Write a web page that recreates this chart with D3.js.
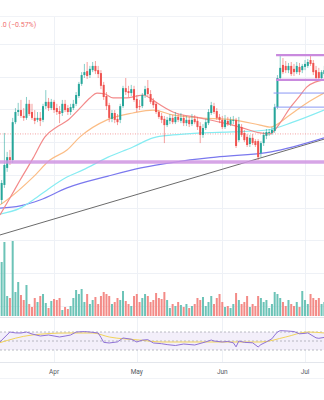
<!DOCTYPE html>
<html><head><meta charset="utf-8">
<script src="https://cdn.jsdelivr.net/npm/d3@7"></script>
<style>html,body{margin:0;padding:0;background:#fff;overflow:hidden}</style>
</head><body><svg id="c" width="324" height="400"></svg>
<script>
// ---- DATA ----
const startDay = Date.UTC(2023, 2, 12); // first candle: 12 Mar
const opens = [47.7,52.3,56.9,62.1,65.4,64.5,76.1,79.2,79.8,78.0,
77.4,81.7,79.2,77.4,76.8,77.4,76.8,81.0,82.3,80.4,
82.3,80.4,79.5,78.9,81.7,80.4,79.2,80.4,81.7,84.1,
87.8,90.5,91.7,90.5,92.0,93.3,92.0,91.1,87.5,84.1,
81.3,77.1,78.9,77.1,76.8,81.0,86.5,85.6,85.0,86.2,
83.2,81.0,81.0,84.4,86.5,84.7,82.6,81.7,79.2,78.0,
77.1,75.2,76.5,77.4,76.1,77.7,76.5,77.4,75.8,76.8,
75.5,77.1,76.5,74.9,72.2,74.3,75.8,78.9,81.0,79.5,
77.7,76.8,74.6,76.5,75.5,76.5,76.8,70.6,74.6,72.8,
71.6,69.4,71.3,70.3,70.3,66.7,69.7,71.9,72.8,72.8,
73.4,80.7,89.6,93.6,93.3,92.0,93.3,92.4,91.4,93.0,
92.0,93.0,93.3,95.1,94.2,92.0,91.4,89.6,90.8];
const highs = [53.8,58.4,72.8,67.0,67.6,77.4,80.4,82.0,82.9,80.4,
83.8,82.9,81.7,79.8,79.2,79.2,81.7,85.9,83.5,83.2,
82.9,81.7,81.0,82.9,82.9,81.3,81.7,82.9,85.3,88.4,
91.4,93.9,94.5,93.3,94.5,94.8,93.3,92.0,88.4,85.3,
82.0,79.8,79.8,78.6,81.7,87.2,89.6,87.2,87.5,87.2,
84.4,82.9,85.0,87.2,89.0,85.9,83.5,82.3,79.8,78.9,
78.0,77.7,78.6,78.3,79.2,78.6,78.9,78.3,78.0,77.7,
78.6,78.3,77.7,76.1,75.5,77.1,80.1,82.3,82.0,80.4,
78.6,78.0,78.3,77.7,77.7,78.0,77.4,77.7,75.5,73.7,
72.5,72.2,72.5,70.9,70.9,70.3,73.1,74.0,74.0,74.6,
81.7,90.5,96.6,95.7,94.8,94.2,94.5,93.9,94.5,94.2,
93.9,95.1,95.4,96.6,95.1,93.3,92.7,92.0,93.3];
const lows = [45.6,51.1,56.0,60.9,63.0,63.6,75.5,78.0,77.4,76.5,
76.8,78.0,76.8,75.5,76.1,74.9,76.1,80.1,79.5,79.8,
78.9,78.3,75.8,78.0,79.2,78.3,78.3,79.8,81.0,83.5,
87.2,89.6,89.3,89.6,91.4,90.8,89.6,86.2,82.9,79.8,
76.1,76.1,75.8,75.2,75.8,80.4,84.4,83.8,84.1,82.3,
79.2,79.8,80.4,83.5,84.1,81.7,80.4,78.6,77.1,75.8,
69.7,74.6,75.5,75.5,75.5,76.1,75.8,74.9,74.9,74.6,
74.9,75.5,73.7,69.7,71.3,73.7,75.2,78.3,78.6,76.8,
75.8,74.0,74.0,74.9,74.9,75.5,68.2,70.0,71.6,70.0,
68.5,68.5,69.1,68.5,64.5,65.4,68.8,70.9,71.9,72.2,
72.8,80.1,89.0,90.8,91.1,91.1,90.2,90.2,90.8,90.5,
91.1,92.0,92.7,93.3,90.5,89.0,89.0,89.0,90.2];
const closes = [52.3,57.5,63.0,65.4,64.5,76.1,79.2,79.8,78.0,77.4,
81.7,78.6,77.4,76.5,77.4,76.5,81.0,82.3,80.4,82.3,
79.8,79.2,78.6,81.7,79.8,79.2,80.7,81.7,84.4,87.8,
90.5,91.4,90.2,92.4,93.3,91.7,90.8,87.2,83.8,81.0,
77.4,78.9,76.8,76.1,81.0,86.5,85.3,85.0,86.2,82.9,
80.4,80.7,84.4,86.2,84.7,82.3,81.3,79.2,77.7,76.8,
75.2,76.8,77.4,76.1,77.7,76.8,77.4,75.8,76.8,75.5,
76.8,76.1,74.6,72.2,74.3,76.1,79.2,81.3,79.2,77.4,
76.8,74.6,76.8,75.5,76.8,76.8,68.8,75.5,72.2,70.6,
69.1,71.3,69.7,69.1,65.4,69.7,72.2,73.1,73.1,73.7,
80.7,89.6,92.7,91.4,92.0,93.3,90.8,91.4,93.3,91.4,
93.3,93.9,94.5,93.9,91.4,89.6,89.6,91.4,92.0];
const volumes = [54,54,74,20,18,75,24,34,21,16,
31,12,9,18,14,20,22,13,8,15,
17,16,18,6,9,7,10,18,26,22,
27,14,22,12,16,19,12,20,24,22,
20,12,14,18,16,25,15,12,10,20,
22,14,18,22,20,14,16,23,18,17,
24,16,8,12,10,14,11,9,12,8,
10,12,18,16,19,10,14,20,12,18,
22,14,9,10,8,12,23,16,12,14,
20,9,12,10,20,18,14,16,8,12,
24,22,18,14,10,16,12,10,14,9,
25,16,12,22,18,16,18,12,14];
// moving averages: [day offset, value]
const maRed = [[0.4,47.7],[4,52.9],[7.7,58.4],[12.4,65.1],[16.7,71.6],[21,74.6],[24.7,76.5],[29.4,80.4],[33,83.5],[35.6,85.0],[38.5,84.7],[41.4,83.5],[46.4,83.5],[50,84.1],[52.2,84.4],[54.8,83.5],[57.3,82.0],[63.1,79.2],[72.9,77.4],[80.2,76.1],[87.4,74.6],[94.7,72.8],[98.3,72.5],[101.9,75.8],[105.5,80.4],[108.8,83.8],[111.7,86.9],[114.9,88.4],[117.9,89.0]];
const maOrange = [[0.4,50.8],[2.9,52.3],[12.4,59.3],[18.5,64.5],[24.7,67.6],[29.4,71.6],[39.2,76.8],[48.6,78.9],[55.9,79.8],[63.1,78.3],[72.9,77.4],[84.9,76.8],[94.7,75.2],[98.3,74.6],[105.5,78.3],[111,81.6],[117.9,85.0]];
const maCyan = [[0.4,48.0],[7.7,49.8],[12.4,52.3],[18.5,56.0],[24.7,59.3],[30.5,61.5],[39.6,65.4],[48.6,68.5],[55.9,71.3],[63.1,72.2],[72.9,72.8],[84.9,73.1],[97.2,73.7],[106.6,76.1],[117.9,79.8]];
const maBlue = [[0.4,49.8],[7.7,50.5],[14.9,52.3],[24.7,56.0],[39.6,59.6],[51.5,62.1],[63.9,63.9],[78.7,65.4],[98.7,67.0],[117.9,71.3]];
const trendLine = [[0.4,41.6],[117.9,70.9]];
const supportLevel = 63.9;
const priceLine = 72.5;
const rangeBox = {fromDay:100.5, top:96.6, bottom:89.0};
const blueLevels = [{fromDay:99.6, v:85.0},{fromDay:100, v:80.7}];
const rsi = [[0,45.6],[4,70],[6,68],[8,67.8],[10,70],[12,65.6],[15,61.1],[18,63.3],[22,58.9],[24,61],[26,63.3],[28,70],[31,71],[33,70],[36,67.8],[37,58],[38,47],[40,45.6],[43,48],[45,56.7],[48,54],[50,47.8],[52,52],[54,53],[56,45.6],[59,44],[61,42],[64,40],[67,43.3],[71,41.1],[75,48],[77,52.2],[78,50],[81,47.8],[83,49],[85,46],[86,37],[87,50],[89,47],[92,46],[94,36.7],[95,42],[97,48],[99,55],[100,63],[101,70],[102,73],[105,72],[107,71],[109,66],[111,67],[112,68],[115,57],[116,56],[118,58]];
const rsiMA = [[0,45.6],[12,63.3],[25,67.8],[34,67.8],[40,58.9],[51,52.2],[59,47.8],[73,47.8],[95,47.8],[104,58.9],[112,70],[118,67.8]];
const rsiLevels = [70, 50, 30];
const monthTicks = ["2023-04-01","2023-05-01","2023-06-01","2023-07-01"];
const headerText = ".0 (\u22120.57%)";

// ---- CHART ----
const W = 324;
const svg = d3.select("#c");
const day = d => new Date(startDay + d * 864e5);
const x = d3.scaleUtc().domain([new Date(Date.UTC(2023,2,12,9,36)), new Date(Date.UTC(2023,6,7,21,7))]).range([0, W]);
const y = d3.scaleLinear().domain([20, 100]).range([305.6, 44]);
const yv = d3.scaleLinear().domain([0, 100]).range([316, 216]);
const yr = d3.scaleLinear().domain([0, 100]).range([363.5, 318.5]);
const up = "#26a69a", dn = "#ef5350";

const defs = svg.append("defs");
defs.append("clipPath").attr("id","main").append("rect").attr("x",0).attr("y",16).attr("width",W).attr("height",301);
defs.append("clipPath").attr("id","rsi").append("rect").attr("x",0).attr("y",318).attr("width",W).attr("height",44);

// grid
const g = svg.append("g");
g.selectAll(".hg").data(y.ticks(8)).join("line")
  .attr("x1",0).attr("x2",W).attr("y1",d=>Math.round(y(d))+0.5).attr("y2",d=>Math.round(y(d))+0.5)
  .attr("stroke","#eef1f6").attr("stroke-width",1);
const months = monthTicks.map(s => new Date(s + "T00:00:00Z"));
g.selectAll(".vg").data(months).join("line")
  .attr("x1",d=>Math.round(x(d))+0.5).attr("x2",d=>Math.round(x(d))+0.5).attr("y1",16).attr("y2",362)
  .attr("stroke","#eef1f6").attr("stroke-width",1);
// pane borders
[16.5, 317.5, 362.5, 378.5].forEach(v => g.append("line").attr("x1",0).attr("x2",W).attr("y1",v).attr("y2",v)
  .attr("stroke", v===16.5||v===378.5 ? "#f1f3f7" : "#e3e6ec").attr("stroke-width",1));

const main = svg.append("g").attr("clip-path","url(#main)");
const idx = d3.range(closes.length);

// volume
main.selectAll(".vol").data(idx).join("rect")
  .attr("x", i => x(day(i)) - 1).attr("width", 2)
  .attr("y", i => yv(volumes[i])).attr("height", i => yv(0) - yv(volumes[i]))
  .attr("fill", i => closes[i] >= opens[i] ? "#6cc3b7" : "#f38b87");

// level lines
main.append("line").attr("x1",0).attr("x2",W).attr("y1",y(priceLine)).attr("y2",y(priceLine))
  .attr("stroke","#f3a3a3").attr("stroke-width",1).attr("stroke-dasharray","1,1.5");

// trend line
const line = d3.line().x(d => x(day(d[0]))).y(d => y(d[1]));
main.append("path").attr("d", line(trendLine)).attr("fill","none").attr("stroke","#6b6b6b").attr("stroke-width",1);

// moving averages
const curved = d3.line().x(d => x(day(d[0]))).y(d => y(d[1])).curve(d3.curveMonotoneX);
[[maBlue,"#7a78ee"],[maCyan,"#86ecf2"],[maOrange,"#fbbd86"],[maRed,"#f38a8a"]].forEach(([data,c]) =>
  main.append("path").attr("d", curved(data)).attr("fill","none").attr("stroke",c).attr("stroke-width",1.2));

// candles
const cg = main.append("g");
cg.selectAll(".wick").data(idx).join("line")
  .attr("x1", i => x(day(i))).attr("x2", i => x(day(i)))
  .attr("y1", i => y(highs[i])).attr("y2", i => y(lows[i]))
  .attr("stroke", i => closes[i] >= opens[i] ? up : dn).attr("stroke-width",1).attr("stroke-opacity",0.55);
cg.selectAll(".body").data(idx).join("rect")
  .attr("x", i => x(day(i)) - 1).attr("width", 2)
  .attr("y", i => y(Math.max(opens[i], closes[i])))
  .attr("height", i => Math.max(1, Math.abs(y(opens[i]) - y(closes[i]))))
  .attr("fill", i => closes[i] >= opens[i] ? up : dn);

// blue horizontal levels
blueLevels.forEach(b => main.append("line").attr("x1", x(day(b.fromDay))).attr("x2", W)
  .attr("y1", y(b.v)).attr("y2", y(b.v)).attr("stroke","#8a98f4").attr("stroke-width",1));

// support zone line
main.append("line").attr("x1",0).attr("x2",W).attr("y1",y(supportLevel)).attr("y2",y(supportLevel))
  .attr("stroke","#cf95e2").attr("stroke-width",3.5).attr("stroke-opacity",0.85);

// range box
[rangeBox.top, rangeBox.bottom].forEach(v => main.append("line")
  .attr("x1", x(day(rangeBox.fromDay))).attr("x2", W).attr("y1", y(v)).attr("y2", y(v))
  .attr("stroke","#c98ade").attr("stroke-width",2.2));

// header text
svg.append("text").attr("x",1).attr("y",27).text(headerText)
  .attr("font-family","Roboto, 'Noto Sans', sans-serif").attr("font-size",7).attr("fill","#f07070");

// RSI pane
const rg = svg.append("g").attr("clip-path","url(#rsi)");
rg.append("rect").attr("x",0).attr("width",W).attr("y",yr(70)).attr("height",yr(30)-yr(70)).attr("fill","#f3effa");
rg.selectAll(".rl").data(rsiLevels).join("line").attr("x1",0).attr("x2",W)
  .attr("y1",d=>yr(d)).attr("y2",d=>yr(d)).attr("stroke","#a7a9b2").attr("stroke-width",0.8).attr("stroke-dasharray","2,2");
const rline = d3.line().x(d => x(day(d[0]))).y(d => yr(d[1]));
rg.append("path").attr("d", d3.line().x(d => x(day(d[0]))).y(d => yr(d[1])).curve(d3.curveMonotoneX)(rsiMA))
  .attr("fill","none").attr("stroke","#f1d35a").attr("stroke-width",1);
rg.append("path").attr("d", rline(rsi)).attr("fill","none").attr("stroke","#8f72d6").attr("stroke-width",1);

// time axis labels
svg.selectAll(".ml").data(months).join("text")
  .attr("x", d => x(d)).attr("y", 373.5).attr("text-anchor","middle")
  .text(d => d3.utcFormat("%b")(d))
  .attr("font-family","Roboto, 'Noto Sans', sans-serif").attr("font-size",6.5).attr("fill","#555a63");
</script></body></html>
